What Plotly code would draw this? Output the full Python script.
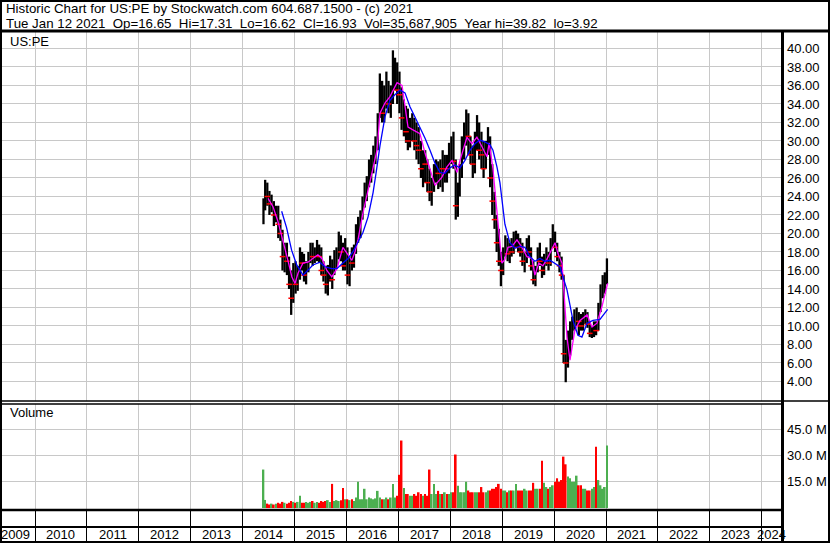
import plotly.graph_objects as go

W, H = 830, 543

# ---------------- data (semi-monthly slots) ----------------
# 2014: late May, then Jun..Dec (two halves each)
high_2014 = [23.8, 25.8, 25.5, 24.6, 24.2, 23.5, 23.0, 23.0, 21.5, 20.4, 19.0, 19.0, 17.5, 16.0, 16.8]
low_2014 = [21.0, 22.5, 23.0, 22.0, 22.3, 20.8, 21.2, 19.5, 19.2, 16.0, 15.8, 15.5, 14.0, 11.2, 12.5]
close_2014 = [23.0, 24.5, 24.0, 23.2, 23.5, 22.0, 22.3, 21.0, 20.0, 17.5, 18.0, 17.0, 14.5, 13.0, 15.5]
vol_2014 = [22.0, 4.6, 2.5, 2.0, 2.5, 2.0, 2.5, 3.0, 2.5, 3.5, 3.0, 2.5, 3.0, 4.0, 3.5]

high_2015 = [17.0, 16.5, 18.5, 18.0, 17.8, 17.0, 18.0, 19.0, 19.0, 18.5, 19.3, 18.8,
             18.5, 17.0, 16.5, 16.6, 17.6, 17.2, 18.2, 18.5, 20.2, 19.8, 19.0, 19.5]
low_2015 = [13.5, 13.8, 15.0, 16.0, 14.8, 14.5, 15.8, 16.8, 16.5, 16.8, 17.0, 16.8,
            15.5, 14.8, 13.5, 13.3, 14.8, 14.0, 15.5, 16.2, 17.2, 17.0, 16.0, 16.0]
close_2015 = [14.5, 15.5, 17.5, 16.8, 15.5, 16.5, 17.2, 18.2, 17.5, 17.8, 18.5, 17.5,
              16.0, 15.5, 14.5, 15.8, 16.5, 15.0, 17.5, 17.8, 19.0, 18.0, 16.5, 18.5]
vol_2015 = [3.0, 3.5, 7.0, 3.0, 3.0, 3.5, 3.0, 3.5, 4.0, 3.0, 3.5, 3.0,
            4.0, 3.5, 4.0, 4.5, 3.5, 13.8, 4.0, 4.5, 4.0, 4.5, 11.5, 5.0]

high_2016 = [18.5, 17.5, 18.5, 18.8, 21.0, 21.8, 22.5, 24.0, 25.5, 26.2, 28.0, 28.5,
             29.5, 30.5, 33.0, 37.3, 36.5, 36.0, 37.5, 36.5, 36.0, 39.8, 39.0, 38.5]
low_2016 = [14.5, 14.3, 16.0, 16.3, 17.8, 19.0, 19.5, 21.5, 22.8, 23.5, 25.0, 25.5,
            26.5, 27.5, 29.0, 32.5, 32.0, 32.0, 33.5, 33.0, 32.5, 34.0, 35.5, 34.0]
close_2016 = [15.5, 17.0, 16.8, 18.0, 20.5, 20.8, 22.0, 23.5, 24.5, 25.8, 27.0, 27.5,
              28.5, 30.0, 32.5, 35.5, 33.0, 35.0, 35.5, 34.0, 35.0, 37.0, 37.0, 35.5]
vol_2016 = [5.0, 4.5, 5.0, 4.0, 6.0, 15.0, 5.0, 5.0, 11.0, 5.0, 6.0, 5.5,
            5.0, 5.5, 9.8, 6.0, 5.0, 5.0, 6.0, 5.0, 6.0, 13.8, 6.0, 7.0]

high_2017 = [37.5, 35.8, 34.5, 33.8, 33.5, 32.5, 33.0, 32.5, 32.0, 31.5, 30.0, 29.0,
             29.0, 28.0, 27.0, 26.0, 27.5, 28.0, 27.8, 28.0, 29.0, 28.5, 28.5, 29.8]
low_2017 = [33.0, 31.2, 30.5, 29.8, 29.0, 29.3, 30.0, 29.0, 28.0, 27.5, 26.0, 25.0,
            25.5, 24.5, 23.5, 23.0, 24.5, 25.5, 24.8, 25.0, 24.5, 25.5, 25.5, 26.5]
close_2017 = [35.0, 32.5, 32.5, 31.0, 30.0, 31.5, 31.5, 30.0, 29.5, 29.0, 27.0, 28.0,
              27.5, 25.5, 24.5, 25.5, 26.5, 27.0, 26.5, 27.5, 27.0, 27.5, 27.0, 29.5]
vol_2017 = [19.0, 38.6, 11.5, 8.0, 8.0, 7.0, 7.0, 8.0, 7.0, 9.0, 8.0, 7.0,
            8.0, 7.0, 22.0, 8.0, 13.8, 8.0, 9.8, 8.0, 8.0, 9.0, 8.0, 8.0]

high_2018 = [30.5, 31.0, 28.0, 25.5, 27.5, 30.5, 32.0, 33.4, 33.0, 30.5, 29.5, 31.0,
             32.8, 32.0, 31.0, 30.0, 30.0, 31.5, 30.5, 27.5, 24.5, 22.0, 20.5, 18.0]
low_2018 = [27.5, 27.0, 21.5, 21.8, 24.0, 26.0, 28.0, 29.5, 28.5, 27.5, 26.0, 26.5,
            29.0, 28.0, 27.0, 26.0, 27.0, 28.5, 25.0, 22.0, 20.5, 18.0, 16.5, 14.3]
close_2018 = [29.5, 27.8, 23.0, 24.5, 26.5, 29.0, 30.0, 31.0, 30.5, 28.5, 27.5, 30.0,
              31.5, 29.0, 28.5, 27.0, 29.5, 29.5, 26.0, 23.5, 21.5, 19.0, 17.0, 16.0]
vol_2018 = [9.0, 9.0, 30.6, 12.7, 9.0, 9.0, 9.0, 15.0, 10.0, 9.0, 9.0, 9.0,
            9.0, 9.0, 12.0, 9.0, 9.0, 10.0, 10.0, 11.0, 11.0, 12.0, 13.8, 11.0]

high_2019 = [18.5, 19.8, 19.5, 19.0, 19.5, 20.2, 20.3, 20.0, 19.5, 19.0, 18.0, 19.5,
             19.8, 18.5, 17.0, 16.5, 18.5, 19.0, 17.5, 17.8, 18.5, 18.0, 19.5, 21.0]
low_2019 = [15.5, 17.5, 17.0, 16.8, 17.5, 17.8, 18.5, 18.0, 17.5, 16.5, 15.8, 16.8,
            17.5, 16.0, 14.5, 14.3, 15.8, 16.5, 15.2, 15.5, 16.5, 16.0, 16.5, 18.5]
close_2019 = [18.0, 18.8, 17.8, 18.5, 18.0, 19.5, 19.5, 18.5, 18.0, 17.0, 17.5, 19.0,
              18.0, 16.5, 15.0, 16.0, 18.0, 17.0, 16.0, 17.0, 17.5, 16.8, 19.0, 20.5]
vol_2019 = [10.0, 10.0, 9.0, 10.0, 10.0, 10.0, 13.8, 10.0, 10.0, 10.0, 11.0, 10.0,
            10.0, 10.0, 14.4, 11.0, 11.0, 11.0, 27.0, 14.4, 12.0, 11.0, 12.0, 13.0]

high_2020 = [20.2, 19.0, 18.0, 17.5, 15.5, 8.5, 9.5, 10.5, 11.0, 11.8, 12.0, 11.5,
             11.3, 11.5, 11.8, 11.5, 10.5, 10.0, 10.5, 10.5, 12.5, 14.5, 15.5, 15.8]
low_2020 = [18.0, 17.0, 15.8, 15.0, 6.0, 3.92, 5.5, 6.8, 8.5, 9.5, 10.0, 9.0,
            9.5, 9.5, 10.2, 9.8, 8.8, 8.7, 8.8, 9.0, 9.5, 11.5, 13.0, 13.5]
close_2020 = [18.5, 17.5, 16.5, 15.5, 7.0, 6.0, 8.5, 9.5, 9.5, 11.0, 11.5, 10.5,
              10.0, 10.5, 11.0, 10.2, 9.2, 9.5, 9.8, 9.5, 12.0, 14.0, 14.5, 14.8]
vol_2020 = [15.0, 17.0, 15.0, 16.0, 29.4, 25.0, 18.0, 17.0, 15.0, 15.0, 18.5, 13.0,
            13.0, 11.0, 11.0, 10.0, 10.0, 11.0, 12.0, 35.0, 16.0, 13.0, 11.0, 12.0]

high_2021 = [17.31]
low_2021 = [14.5]
close_2021 = [16.93]
vol_2021 = [35.687905]

high = high_2014 + high_2015 + high_2016 + high_2017 + high_2018 + high_2019 + high_2020 + high_2021
low = low_2014 + low_2015 + low_2016 + low_2017 + low_2018 + low_2019 + low_2020 + low_2021
close = close_2014 + close_2015 + close_2016 + close_2017 + close_2018 + close_2019 + close_2020 + close_2021
volume = vol_2014 + vol_2015 + vol_2016 + vol_2017 + vol_2018 + vol_2019 + vol_2020 + vol_2021

slot_dates = ["2014-05-27"]
for yr in range(2014, 2021):
    for mo in range(1, 13):
        if yr == 2014 and mo < 6:
            continue
        slot_dates.append(f"{yr}-{mo:02d}-08")
        slot_dates.append(f"{yr}-{mo:02d}-23")
slot_dates.append("2021-01-07")

# moving averages
ma_short_dates = ["2014-06-28", "2014-08-02", "2014-09-06", "2014-10-11", "2014-11-15", "2014-12-13",
                  "2015-01-04", "2015-01-25", "2015-03-01", "2015-04-05", "2015-05-10", "2015-06-14",
                  "2015-07-12", "2015-08-16", "2015-09-20", "2015-10-26", "2015-12-07",
                  "2016-01-05", "2016-02-08", "2016-03-01", "2016-03-22", "2016-04-26", "2016-06-01",
                  "2016-07-06", "2016-08-03", "2016-08-24", "2016-09-28", "2016-11-02", "2016-12-22",
                  "2017-01-26", "2017-02-16", "2017-03-09", "2017-04-13", "2017-06-01", "2017-07-07",
                  "2017-08-11", "2017-09-15", "2017-11-03", "2017-12-08",
                  "2018-01-13", "2018-02-17", "2018-03-10", "2018-04-28", "2018-06-02", "2018-07-07",
                  "2018-08-11", "2018-09-16", "2018-10-01", "2018-10-28", "2018-11-18", "2018-12-02",
                  "2018-12-16", "2018-12-30",
                  "2019-01-20", "2019-02-10", "2019-03-11", "2019-04-15", "2019-05-20", "2019-06-24",
                  "2019-07-29", "2019-08-19", "2019-09-16", "2019-10-14", "2019-11-11", "2019-12-17",
                  "2020-01-08", "2020-01-29", "2020-02-26", "2020-04-01", "2020-04-22", "2020-05-27",
                  "2020-07-02", "2020-08-20", "2020-09-24", "2020-10-29", "2020-12-03", "2021-01-12"]
ma_short_vals = [23.8, 22.9, 21.3, 19.3, 17.1, 15.3,
                 14.6, 15.7, 16.8, 16.9, 17.3, 17.7,
                 17.3, 16.0, 15.3, 16.2, 18.5,
                 17.9, 17.1, 18.0, 19.3, 22.2, 24.7,
                 26.9, 29.0, 33.0, 34.1, 34.8, 36.3,
                 36.0, 33.7, 31.5, 31.2, 30.8, 28.7,
                 26.9, 25.2, 26.1, 27.2,
                 27.9, 26.6, 27.9, 30.4, 29.7, 30.4,
                 29.4, 28.3, 29.8, 27.0, 23.5, 21.0,
                 18.5, 16.8,
                 17.2, 18.5, 18.6, 19.3, 18.5, 17.5,
                 17.3, 15.5, 16.8, 16.5, 17.2, 18.3,
                 19.0, 17.8, 16.8, 8.8, 6.3, 9.6,
                 10.6, 11.2, 9.9, 10.3, 12.1, 14.6]

ma_long_dates = ["2014-10-02", "2014-11-06", "2014-12-11",
                 "2015-01-16", "2015-03-01", "2015-04-05", "2015-05-10", "2015-06-28", "2015-08-02",
                 "2015-09-20", "2015-10-26", "2015-12-07",
                 "2016-01-12", "2016-02-15", "2016-03-22", "2016-04-26", "2016-06-01", "2016-07-06",
                 "2016-07-27", "2016-08-24", "2016-09-28", "2016-11-02", "2016-12-07",
                 "2017-01-12", "2017-02-16", "2017-03-23", "2017-04-27", "2017-06-01", "2017-07-07",
                 "2017-08-11", "2017-09-15", "2017-10-20", "2017-11-24", "2017-12-29",
                 "2018-02-03", "2018-03-10", "2018-04-14", "2018-05-19", "2018-06-23", "2018-07-28",
                 "2018-09-01", "2018-10-07", "2018-10-28", "2018-11-25", "2018-12-16",
                 "2019-01-20", "2019-02-24", "2019-03-31", "2019-05-06", "2019-06-10", "2019-07-15",
                 "2019-08-19", "2019-09-23", "2019-10-29", "2019-12-03",
                 "2020-02-11", "2020-04-01", "2020-05-13", "2020-06-17", "2020-07-15", "2020-08-20",
                 "2020-10-01", "2020-11-19", "2021-01-12"]
ma_long_vals = [22.4, 20.6, 18.2,
                16.6, 15.5, 16.0, 16.6, 16.9, 16.4,
                16.2, 16.2, 16.8,
                17.3, 18.0, 19.0, 20.1, 21.8, 24.4,
                26.5, 29.5, 32.6, 34.4, 35.0,
                35.5, 35.2, 33.7, 32.6, 31.5, 30.3,
                29.0, 27.6, 26.6, 26.5, 27.1,
                27.4, 27.1, 27.9, 29.0, 29.7, 30.1,
                29.9, 29.6, 29.0, 27.2, 25.5,
                21.0, 19.0, 18.4, 18.6, 18.5, 17.5,
                17.0, 17.3, 17.0, 17.1,
                16.4, 13.9, 10.6, 9.0, 8.8, 10.3,
                10.6, 10.7, 11.8]

price_ticks = list(range(4, 41, 2))
price_tick_text = [f"{v:.2f}" for v in price_ticks]
vol_ticks = [15, 30, 45]
vol_tick_text = [f"{v:.1f} M" for v in vol_ticks]
year_labels = list(range(2009, 2025))

header1 = "Historic Chart for US:PE by Stockwatch.com 604.687.1500 - (c) 2021"
header2 = ("Tue Jan 12 2021\u00a0\u00a0Op=16.65\u00a0\u00a0Hi=17.31\u00a0\u00a0Lo=16.62\u00a0\u00a0"
           "Cl=16.93\u00a0\u00a0Vol=35,687,905\u00a0\u00a0Year hi=39.82\u00a0\u00a0lo=3.92")

# ---------------- figure ----------------
FONT = "Liberation Sans, Arial, sans-serif"
GRID = "#c8c8c8"
GREEN = "#4caf50"
RED = "#ff0000"
DAY_MS = 86400000
bar_w = [16 * DAY_MS] * len(slot_dates)
vol_w = [12 * DAY_MS] * len(slot_dates)

def pxx(x):
    return x / W

def pxy(y):
    return 1 - y / H

fig = go.Figure()

fig.add_trace(go.Bar(
    x=slot_dates, y=[h - l for h, l in zip(high, low)], base=low, width=bar_w,
    marker=dict(color="black", line=dict(width=0)), xaxis="x", yaxis="y",
    hoverinfo="skip", showlegend=False))

down_x = [d for i, d in enumerate(slot_dates) if i > 0 and close[i] < close[i - 1]]
down_y = [c for i, c in enumerate(close) if i > 0 and close[i] < close[i - 1]]
fig.add_trace(go.Scatter(
    x=down_x, y=down_y, mode="markers",
    marker=dict(symbol="line-ew", size=4, line=dict(color=RED, width=1.5)),
    xaxis="x", yaxis="y", hoverinfo="skip", showlegend=False))

fig.add_trace(go.Scatter(x=ma_short_dates, y=ma_short_vals, mode="lines",
                         line=dict(color="#ff00ff", width=1.3), xaxis="x", yaxis="y",
                         hoverinfo="skip", showlegend=False))
fig.add_trace(go.Scatter(x=ma_long_dates, y=ma_long_vals, mode="lines",
                         line=dict(color="#0000ff", width=1.3), xaxis="x", yaxis="y",
                         hoverinfo="skip", showlegend=False))

vol_colors = [GREEN if i == 0 or close[i] >= close[i - 1] else RED for i in range(len(close))]
fig.add_trace(go.Bar(x=slot_dates, y=volume, width=vol_w,
                     marker=dict(color=vol_colors, line=dict(width=0)),
                     xaxis="x2", yaxis="y2", hoverinfo="skip", showlegend=False))

x_dom = [pxx(2), pxx(782)]
x_range = ["2009-05-13", "2024-05-23"]
common_x = dict(domain=x_dom, type="date", range=x_range, tick0="2010-01-01", dtick="M12",
                showticklabels=False, ticks="", zeroline=False, showline=False, fixedrange=True)

# year label positions (mid-year, clamped at the ends)
year_pos = ["2009-08-16"] + [f"{y}-07-02" for y in range(2010, 2024)] + ["2024-03-08"]

annotations = [
    dict(text=header1, x=pxx(4), y=pxy(9), xref="paper", yref="paper", xanchor="left",
         yanchor="middle", showarrow=False, font=dict(family=FONT, size=13.3, color="black")),
    dict(text=header2, x=pxx(4), y=pxy(23), xref="paper", yref="paper", xanchor="left",
         yanchor="middle", showarrow=False, font=dict(family=FONT, size=13.3, color="black")),
    dict(text="US:PE", x=pxx(8), y=pxy(41), xref="paper", yref="paper", xanchor="left",
         yanchor="middle", showarrow=False, font=dict(family=FONT, size=13, color="black")),
    dict(text="Volume", x=pxx(8), y=pxy(413), xref="paper", yref="paper", xanchor="left",
         yanchor="middle", showarrow=False, font=dict(family=FONT, size=13, color="black")),
]
for pos, yl in zip(year_pos, year_labels):
    annotations.append(dict(text=str(yl), x=pos, y=pxy(534.5), xref="x3", yref="paper",
                            xanchor="center", yanchor="middle", showarrow=False,
                            font=dict(family=FONT, size=13, color="black")))

def hline(y, x0, x1, w):
    return dict(type="line", xref="paper", yref="paper", x0=pxx(x0), x1=pxx(x1),
                y0=pxy(y), y1=pxy(y), line=dict(color="black", width=w), layer="above")

def vline(x, y0, y1, w):
    return dict(type="line", xref="paper", yref="paper", x0=pxx(x), x1=pxx(x),
                y0=pxy(y0), y1=pxy(y1), line=dict(color="black", width=w), layer="above")

shapes = [
    dict(type="rect", xref="paper", yref="paper", x0=pxx(1), x1=pxx(829), y0=pxy(1), y1=pxy(542),
         line=dict(color="black", width=2), layer="above"),
    hline(31, 0, 830, 3),
    vline(782.5, 31, 542, 3),
    hline(401, 0, 830, 1.5),
    hline(404, 0, 782, 1.5),
    hline(510, 0, 782, 2.5),
    hline(527, 0, 782, 2),
]

fig.update_layout(
    width=W, height=H, margin=dict(l=0, r=0, t=0, b=0),
    paper_bgcolor="white", plot_bgcolor="white", showlegend=False, barmode="overlay",
    xaxis=dict(**common_x, anchor="y", showgrid=True, gridcolor=GRID, gridwidth=1),
    yaxis=dict(domain=[pxy(401), pxy(31)], range=[1.89, 41.89], side="right", anchor="x",
               tickmode="array", tickvals=price_ticks, ticktext=price_tick_text, ticks="",
               ticklabelstandoff=4, showgrid=True, gridcolor=GRID, gridwidth=1,
               zeroline=False, showline=False, fixedrange=True,
               tickfont=dict(family=FONT, size=13, color="black")),
    xaxis2=dict(**common_x, anchor="y2", matches="x", showgrid=True, gridcolor=GRID, gridwidth=1),
    yaxis2=dict(domain=[pxy(509), pxy(404)], range=[-0.57, 59.5], side="right", anchor="x2",
                tickmode="array", tickvals=vol_ticks, ticktext=vol_tick_text, ticks="",
                ticklabelstandoff=4, showgrid=True, gridcolor=GRID, gridwidth=1,
                zeroline=False, showline=False, fixedrange=True,
                tickfont=dict(family=FONT, size=13, color="black")),
    xaxis3=dict(**common_x, anchor="y3", matches="x", showgrid=True, gridcolor="black", gridwidth=1),
    yaxis3=dict(domain=[pxy(542), pxy(510)], range=[0, 1], showticklabels=False, showgrid=False,
                zeroline=False, ticks="", fixedrange=True),
    annotations=annotations, shapes=shapes,
)

fig.write_html(
    "out.html",
    config={"displayModeBar": False},
    post_script="document.body.style.margin='0';document.body.style.overflow='hidden';",
)
